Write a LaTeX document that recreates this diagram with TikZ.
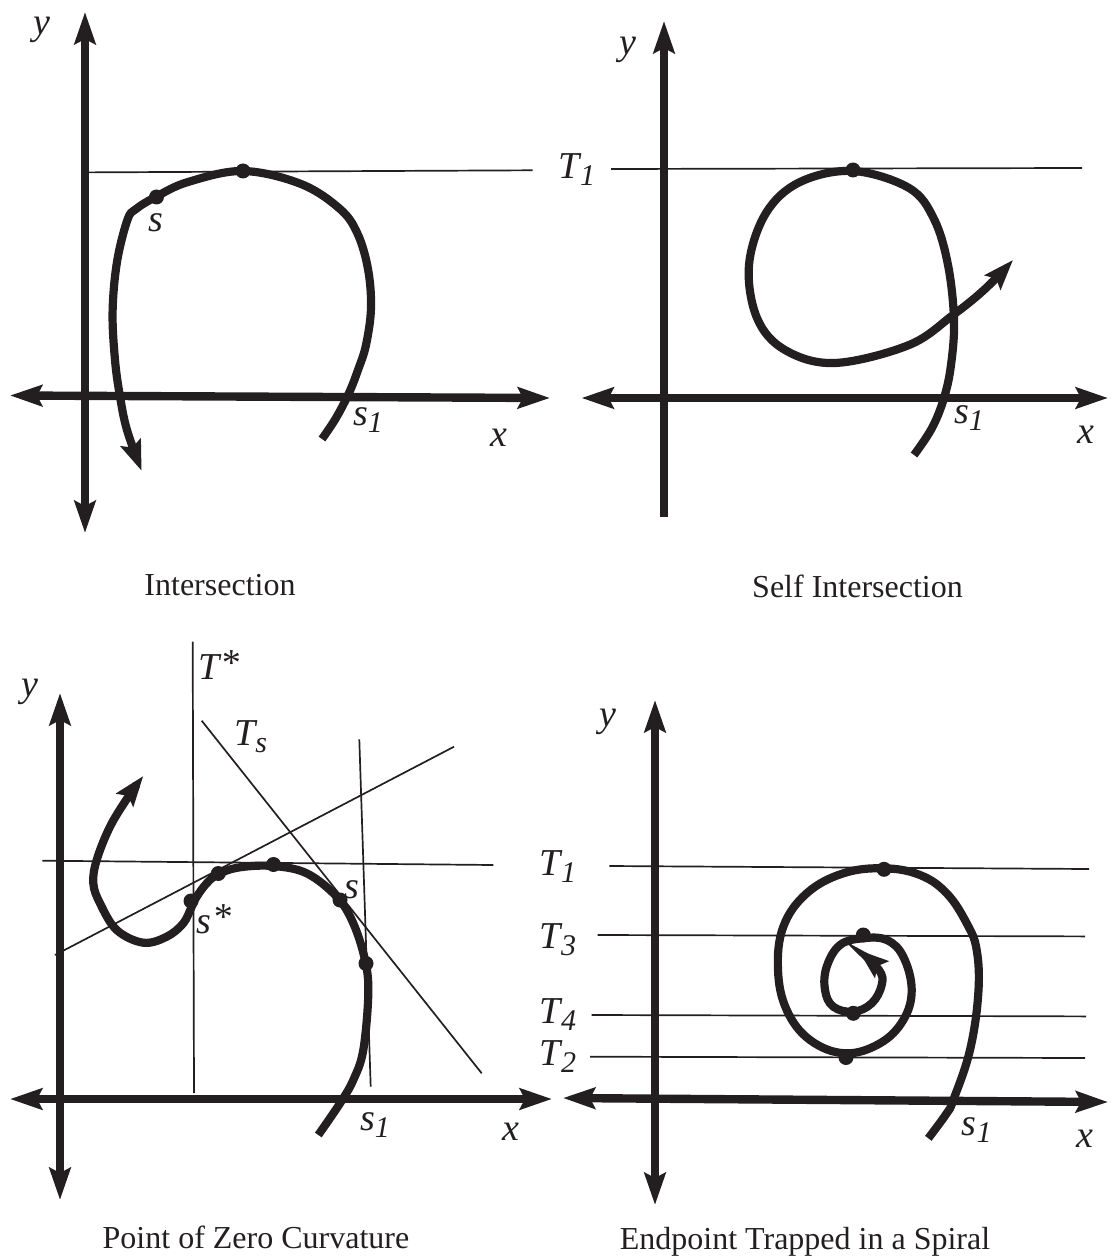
\documentclass[tikz,border=0pt]{standalone}
\usepackage{fontspec}
\setmainfont{Liberation Serif}
\usetikzlibrary{arrows.meta}
\definecolor{CrvInk}{HTML}{231F20}
\newcommand{\crvsub}[1]{\raisebox{-3.5pt}{\fontsize{15}{15}\selectfont #1}}
\newcommand{\crvstar}{\raisebox{2pt}{*}}
\tikzset{
crvaxis/.style={line width=4.2pt, draw=CrvInk},
crvcurve/.style={line width=4.1pt, draw=CrvInk},
crvthin/.style={line width=0.85pt, draw=CrvInk},
crvup/.style={-{Stealth[length=16pt, width=10.5pt, inset=2.5pt]}},
crvboth/.style={{Stealth[length=16pt, width=10.5pt, inset=2.5pt]}-{Stealth[length=16pt, width=10.5pt, inset=2.5pt]}},
crvend/.style={-{Stealth[length=15pt, width=10.5pt, inset=2.5pt]}},
crvdot/.style={circle, fill=CrvInk, inner sep=0pt, minimum size=7.5pt},
crvlabel/.style={font=\fontsize{19}{19}\selectfont\itshape, text=CrvInk, inner sep=0pt},
crvcaption/.style={font=\fontsize{16}{16}\selectfont, text=CrvInk, inner sep=0pt, anchor=base}
}

\begin{document}
\begin{tikzpicture}[x=0.5pt, y=-0.5pt]
\useasboundingbox (0,0) rectangle (1110,1257);

% Intersection
\draw[crvaxis, crvboth] (85,533) -- (85,12);
\draw[crvaxis, crvboth] (10,395.5) -- (550,398);
\draw[crvthin] (85,172.4) -- (532.7,170.3);
\draw[crvcurve, crvend] plot[smooth, tension=0.6] coordinates {
  (322,439) (336,418) (349,393) (358,370) (366,345) (371,308) (368,269)
  (357.5,233.6) (340,209) (301,184) (243,171) (188,182) (156.5,196.5)
  (136,209) (127.4,220) (117,262) (112.6,311.5) (115,360) (120,396.5)
  (127,430) (141.6,470.8)};
\node[crvdot] (i-top) at (243,171) {};
\node[crvdot] (i-s) at (156.5,197) {};
\node[crvlabel] (i-y) at (41.6,30) {y};
\node[crvlabel] (i-x) at (499,438) {x};
\node[crvlabel] (i-slab) at (155.8,223) {s};
\node[crvlabel] (i-s1) at (368,420) {s\crvsub{1}};
\node[crvcaption] (i-cap) at (220,595) {Intersection};

% Self Intersection
\draw[crvaxis, crvup] (664,517) -- (664,21);
\draw[crvaxis, crvboth] (581.5,398) -- (1108,398);
\draw[crvthin] (611,169) -- (1082,168);
\draw[crvcurve, crvend] plot[smooth, tension=0.6] coordinates {
  (914,455) (932,428) (944,398) (951,365) (954,320) (948,265)
  (934,219) (909,188) (853,171) (800,182) (766,213) (749,265)
  (757,318) (785,350) (835,363) (909,345) (953,315) (985,289)
  (1013,260)};
\node[crvdot] (si-top) at (853,170) {};
\node[crvlabel] (si-y) at (627.6,50.3) {y};
\node[crvlabel] (si-x) at (1086,434.7) {x};
\node[crvlabel] (si-t1) at (577,170) {T\crvsub{1}};
\node[crvlabel] (si-s1) at (969,418.4) {s\crvsub{1}};
\node[crvcaption] (si-cap) at (857.5,597) {Self Intersection};

% Point of Zero Curvature
\draw[crvaxis, crvboth] (60,1200) -- (60,693);
\draw[crvaxis, crvboth] (10,1099) -- (552,1099);
\draw[crvthin] (192.7,641.7) -- (194,1093);
\draw[crvthin] (201.7,720.7) -- (481.7,1073.3);
\draw[crvthin] (359.3,739.3) -- (370.7,1086.7);
\draw[crvthin] (55,955) -- (454,746.7);
\draw[crvthin] (42.3,860.7) -- (493.3,865);
\draw[crvcurve, crvend] plot[smooth, tension=0.6] coordinates {
  (318.3,1135) (340,1103.3) (353.3,1080) (363.3,1050) (368.3,993.3)
  (365,960) (353.3,923.3) (336.7,896.7) (306.7,873.3) (273.3,866)
  (240,867.3) (218.3,874) (206.7,883.3) (196.7,896.7) (191.7,906.7)
  (183.3,923.3) (166.7,936.7) (143.3,942.7) (116.7,930) (100,903.3)
  (93.3,883.3) (96.7,860) (110,826.7) (128.3,796.7) (143.3,776)};
\node[crvdot] (z-sstar) at (191,901) {};
\node[crvdot] (z-tan) at (218.3,873.5) {};
\node[crvdot] (z-top) at (273.5,864.5) {};
\node[crvdot] (z-s) at (340,900) {};
\node[crvdot] (z-low) at (366,963.5) {};
\node[crvlabel] (z-y) at (30,692.3) {y};
\node[crvlabel] (z-x) at (511,1132) {x};
\node[crvlabel] (z-tstar) at (219,665) {T\crvstar};
\node[crvlabel] (z-ts) at (250.7,736.7) {T\crvsub{s}};
\node[crvlabel] (z-slab) at (351.7,890) {s};
\node[crvlabel] (z-sstarlab) at (214,919.3) {s\kern1pt\crvstar};
\node[crvlabel] (z-s1) at (375,1125) {s\crvsub{1}};
\node[crvcaption] (z-cap) at (256,1248) {Point of Zero Curvature};

% Endpoint Trapped in a Spiral
\draw[crvaxis, crvboth] (655,1205) -- (655,700);
\draw[crvaxis, crvboth] (563,1098) -- (1108,1102);
\draw[crvthin] (609.3,866) -- (1089,869);
\draw[crvthin] (597.7,935) -- (1085,936.4);
\draw[crvthin] (591.7,1015) -- (1086,1016.4);
\draw[crvthin] (590,1056.7) -- (1085,1058);
\draw[crvcurve, crvend] plot[smooth, tension=0.65] coordinates {
  (928.3,1138.3) (946.7,1113.3) (953.3,1100) (970,1050) (978.3,993.3)
  (976.7,950) (966.7,923.3) (946.7,893.3) (920,875) (884,868.3)
  (843.3,873.3) (806.7,893.3) (783.3,926.7) (778,970) (786.7,1010)
  (810,1040) (845,1053.3) (880,1043.3) (903.3,1020) (911.7,990)
  (903.3,956.7) (886.7,940) (862.7,938.3) (840,945) (826.7,966.7)
  (825,990) (833.3,1006.7) (853.3,1011.7) (871.7,1003.3) (881.7,985)
  (879,970) (858.3,950)};
\node[crvdot] (sp-t1) at (884,869.3) {};
\node[crvdot] (sp-t3) at (863.3,935) {};
\node[crvdot] (sp-t4) at (853.3,1013.3) {};
\node[crvdot] (sp-t2) at (846,1057.5) {};
\node[crvlabel] (sp-y) at (608.3,721.7) {y};
\node[crvlabel] (sp-x) at (1085,1139) {x};
\node[crvlabel] (sp-lt1) at (558,867) {T\crvsub{1}};
\node[crvlabel] (sp-lt3) at (558,940) {T\crvsub{3}};
\node[crvlabel] (sp-lt4) at (558,1015) {T\crvsub{4}};
\node[crvlabel] (sp-lt2) at (558,1056.5) {T\crvsub{2}};
\node[crvlabel] (sp-s1) at (976.7,1130) {s\crvsub{1}};
\node[crvcaption] (sp-cap) at (805,1249) {Endpoint Trapped in a Spiral};
\end{tikzpicture}
\end{document}
